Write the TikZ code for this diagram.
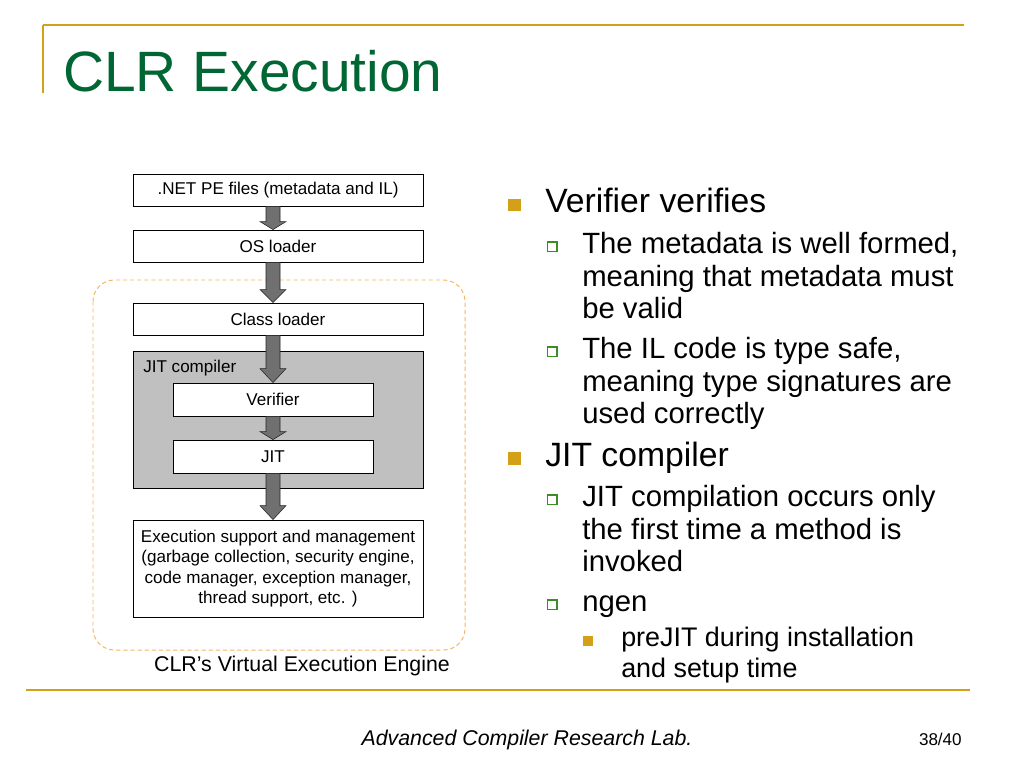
\documentclass[tikz,border=0pt]{standalone}
\usepackage{fontspec}
\setmainfont{Liberation Sans}
\usetikzlibrary{calc}
\definecolor{rulegold}{RGB}{212,160,23}
\definecolor{titlegreen}{RGB}{0,102,51}
\definecolor{frameorange}{RGB}{244,184,96}
\definecolor{boxgray}{RGB}{192,192,192}
\definecolor{arrowgray}{RGB}{112,112,112}
\definecolor{bulletgreen}{RGB}{60,140,40}

\begin{document}
\begin{tikzpicture}[x=0.703125pt,y=-0.703125pt,
    stagebox/.style={draw=black,fill=white,line width=0.6pt,inner sep=0pt,
      align=center,font=\fontsize{12}{14.3}\selectfont},
    wide/.style={minimum width=203.9pt,minimum height=22.5pt},
    narrow/.style={minimum width=140.6pt,minimum height=23.2pt},
    flowarrow/.style={fill=arrowgray,draw=black!85,line width=0.4pt,
      to path={($(\tikztostart)+(-7,0)$) -- ($(\tikztotarget)+(-7,-#1)$)
        -- ($(\tikztotarget)+(-13,-#1)$) -- (\tikztotarget)
        -- ($(\tikztotarget)+(13,-#1)$) -- ($(\tikztotarget)+(7,-#1)$)
        -- ($(\tikztostart)+(7,0)$) -- cycle}},
    flowarrow/.default=13,
    maintext/.style={anchor=base west,inner sep=0pt,align=left,
      font=\fontsize{23.7}{27}\selectfont},
    subtext/.style={anchor=base west,inner sep=0pt,align=left,
      font=\fontsize{20.6}{22.9}\selectfont},
    subsubtext/.style={anchor=base west,inner sep=0pt,align=left,
      font=\fontsize{18.9}{21.1}\selectfont},
    mainbullet/.style={fill=rulegold},
    subbullet/.style={draw=bulletgreen,line width=1pt,fill=white}]
  \useasboundingbox (0,0) rectangle (1024,768);
  \fill[white] (0,0) rectangle (1024,768);

  % title and rules
  \draw[rulegold,line width=1.5pt] (43,25) -- (964,25);
  \draw[rulegold,line width=1.2pt] (43,25) -- (43,93);
  \node[anchor=base west,inner sep=0pt,text=titlegreen,
    font=\fontsize{40}{44}\selectfont] (title) at (63,92) {CLR Execution};
  \draw[rulegold,line width=1.8pt] (26,690) -- (970,690);
  \node[anchor=base,inner sep=0pt,font=\fontsize{15}{18}\selectfont\itshape]
    (footer) at (527,745) {Advanced Compiler Research Lab.};
  \node[anchor=base east,inner sep=0pt,font=\fontsize{12}{14}\selectfont]
    (page) at (962,745) {38/40};

  % virtual execution engine frame
  \draw[frameorange,line width=0.7pt,dash pattern=on 3pt off 2pt,
    rounded corners=15pt] (93,280) rectangle (465,650);
  \node[anchor=base,inner sep=0pt,font=\fontsize{15}{18}\selectfont]
    (engine) at (302,671) {CLR’s Virtual Execution Engine};

  % stages
  \node[stagebox,wide] (pefiles) at (278,190) {.NET PE files (metadata and IL)};
  \node[stagebox,wide] (osload) at (278,246) {OS loader};
  \node[stagebox,wide] (clsload) at (278,319) {Class loader};
  \node[stagebox,fill=boxgray,minimum width=203.9pt,minimum height=96.3pt]
    (jitcomp) at (278,419.5) {};
  \node[anchor=base west,inner sep=0pt,font=\fontsize{12}{14.3}\selectfont]
    (jitlabel) at (143,372) {JIT compiler};
  \node[stagebox,narrow] (verifier) at (273,399.5) {Verifier};
  \node[stagebox,narrow] (jit) at (273,456.5) {JIT};
  \node[stagebox,minimum width=203.9pt,minimum height=68.2pt] (execsup)
    at (278,568.5) {Execution support and management\\(garbage collection, security engine,\\code manager, exception manager,\\thread support, etc. )};

  \draw[flowarrow=8] (pefiles.south -| verifier.center) to (osload.north -| verifier.center);
  \draw[flowarrow] (osload.south -| verifier.center) to (clsload.north -| verifier.center);
  \draw[flowarrow=14] (clsload.south -| verifier.center) to (verifier.north);
  \draw[flowarrow=8] (verifier.south) to (jit.north);
  \draw[flowarrow=14] (jit.south) to (execsup.north -| jit.center);

  % bullet text (base anchor sits on the last line)
  \fill[mainbullet] (508,199) rectangle (520.5,211.5);
  \node[maintext] (verifies) at (545,213) {Verifier verifies};
  \filldraw[subbullet] (547.5,242) rectangle (557,251.5);
  \node[subtext] (wellformed) at (582,318.8) {The metadata is well formed,\\meaning that metadata must\\be valid};
  \filldraw[subbullet] (547.5,347) rectangle (557,356.5);
  \node[subtext] (typesafe) at (582,423.8) {The IL code is type safe,\\meaning type signatures are\\used correctly};
  \fill[mainbullet] (508,452) rectangle (520.5,464.5);
  \node[maintext] (compiler) at (545,466) {JIT compiler};
  \filldraw[subbullet] (547.5,495) rectangle (557,504.5);
  \node[subtext] (firsttime) at (582,571.8) {JIT compilation occurs only\\the first time a method is\\invoked};
  \filldraw[subbullet] (547.5,600) rectangle (557,609.5);
  \node[subtext] (ngen) at (582,611) {ngen};
  \fill[mainbullet] (583,635.5) rectangle (593,645.5);
  \node[subsubtext] (prejit) at (621,677) {preJIT during installation\\and setup time};
\end{tikzpicture}
\end{document}
